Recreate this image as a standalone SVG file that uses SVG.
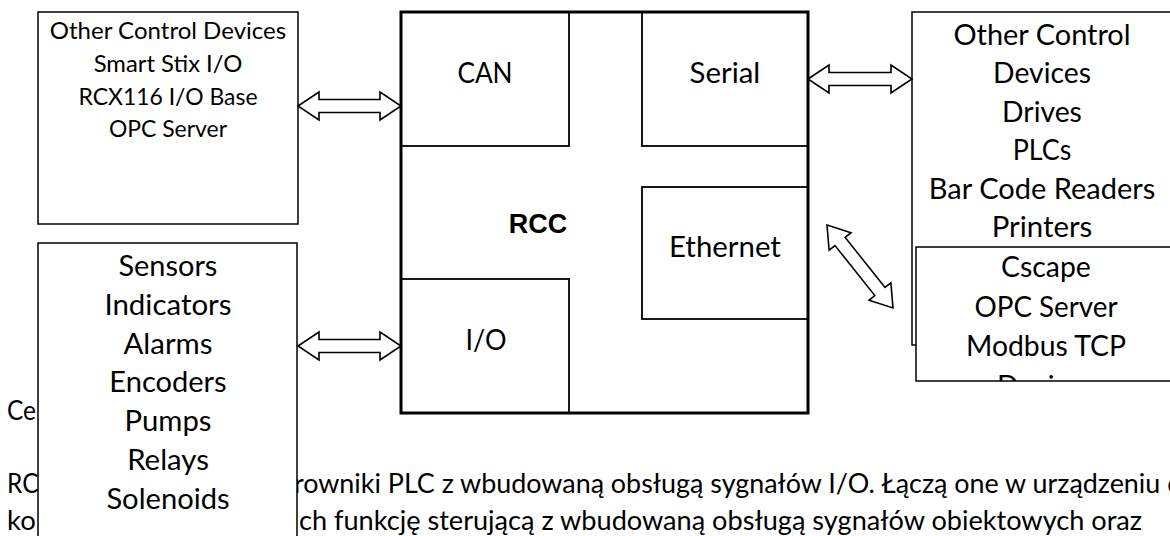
<svg xmlns="http://www.w3.org/2000/svg" width="1170" height="536" viewBox="0 0 1170 536">
<defs>
<style>
.box{fill:#fff;stroke:#000;stroke-width:1.5}
.inner{fill:#fff;stroke:#000;stroke-width:1.8}
.outer{fill:none;stroke:#000;stroke-width:3}
.arrow{fill:#fff;stroke:#000;stroke-width:1.6;stroke-linejoin:miter}
.t{font-family:Lato,"Open Sans",sans-serif;fill:#000}
.s1{font-size:23.8px}
.s2{font-size:28.3px}
.body{font-size:26.4px}
.rcc{font-family:"Liberation Sans",Arial,sans-serif;font-weight:bold;font-size:27px;text-anchor:middle}
</style>
<clipPath id="clipCscape"><rect x="916" y="247" width="260" height="134"/></clipPath>
</defs>
<rect width="1170" height="536" fill="#fff"/>

<g id="body-text" class="t body">
<text x="7" y="420" textLength="29" lengthAdjust="spacingAndGlyphs">Ce</text>
<text x="7" y="493" textLength="31.5" lengthAdjust="spacingAndGlyphs">RC</text>
<text x="7" y="530" textLength="28.8" lengthAdjust="spacingAndGlyphs">ko</text>
<text x="294" y="493" textLength="886" lengthAdjust="spacingAndGlyphs">rowniki PLC z wbudowaną obsługą sygnałów I/O. Łączą one w urządzeniu c</text>
<text x="299" y="530" textLength="843" lengthAdjust="spacingAndGlyphs">ch funkcję sterującą z wbudowaną obsługą sygnałów obiektowych oraz</text>
</g>

<g id="node-other-control-left">
<rect class="box" x="38" y="12" width="260" height="212"/>
<g class="t s1">
<text x="49.8" y="39" textLength="236.4" lengthAdjust="spacingAndGlyphs">Other Control Devices</text>
<text x="93.7" y="72" textLength="148.7" lengthAdjust="spacingAndGlyphs">Smart Stix I/O</text>
<text x="78.5" y="104.5" textLength="179" lengthAdjust="spacingAndGlyphs">RCX116 I/O Base</text>
<text x="109" y="137" textLength="118" lengthAdjust="spacingAndGlyphs">OPC Server</text>
</g>
</g>

<g id="node-io-devices">
<rect class="box" x="38" y="243" width="259" height="320"/>
<g class="t s2">
<text x="118.5" y="276" textLength="98.9" lengthAdjust="spacingAndGlyphs">Sensors</text>
<text x="104.4" y="314.8" textLength="127.1" lengthAdjust="spacingAndGlyphs">Indicators</text>
<text x="123.5" y="353.6" textLength="89" lengthAdjust="spacingAndGlyphs">Alarms</text>
<text x="109.3" y="392.4" textLength="117.4" lengthAdjust="spacingAndGlyphs">Encoders</text>
<text x="124.6" y="431.2" textLength="86.9" lengthAdjust="spacingAndGlyphs">Pumps</text>
<text x="127.2" y="470" textLength="81.7" lengthAdjust="spacingAndGlyphs">Relays</text>
<text x="106.4" y="508.8" textLength="123.2" lengthAdjust="spacingAndGlyphs">Solenoids</text>
</g>
</g>

<g id="node-rcc">
<rect x="401" y="12" width="407" height="401" fill="#fff"/>
<g id="node-can">
<rect class="inner" x="401" y="12" width="168" height="134"/>
<text class="t s2" x="457.4" y="83" textLength="55.2" lengthAdjust="spacingAndGlyphs">CAN</text>
</g>
<g id="node-serial">
<rect class="inner" x="642" y="12" width="166" height="134"/>
<text class="t s2" x="689.6" y="83" textLength="70.7" lengthAdjust="spacingAndGlyphs">Serial</text>
</g>
<g id="node-ethernet">
<rect class="inner" x="642" y="187" width="166" height="132"/>
<text class="t s2" x="669" y="257" textLength="111.9" lengthAdjust="spacingAndGlyphs">Ethernet</text>
</g>
<g id="node-io">
<rect class="inner" x="401" y="279" width="168" height="134"/>
<text class="t s2" x="465.5" y="350" textLength="41" lengthAdjust="spacingAndGlyphs">I/O</text>
</g>
<rect class="outer" x="401" y="12" width="407" height="401"/>
<text class="rcc" x="538" y="233">RCC</text>
</g>

<g id="node-other-control-right">
<rect class="box" x="912" y="12" width="264" height="333"/>
<g class="t s2">
<text x="953.5" y="45" textLength="177.1" lengthAdjust="spacingAndGlyphs">Other Control</text>
<text x="993.1" y="83.4" textLength="97.8" lengthAdjust="spacingAndGlyphs">Devices</text>
<text x="1002.1" y="121.8" textLength="79.8" lengthAdjust="spacingAndGlyphs">Drives</text>
<text x="1012.7" y="160.2" textLength="58.6" lengthAdjust="spacingAndGlyphs">PLCs</text>
<text x="928.8" y="198.6" textLength="226.5" lengthAdjust="spacingAndGlyphs">Bar Code Readers</text>
<text x="991.7" y="237" textLength="100.6" lengthAdjust="spacingAndGlyphs">Printers</text>
</g>
</g>

<g id="node-ethernet-devices">
<rect class="box" x="916" y="247" width="264" height="134"/>
<g class="t s2" clip-path="url(#clipCscape)">
<text x="1001.1" y="277" textLength="89.7" lengthAdjust="spacingAndGlyphs">Cscape</text>
<text x="974.5" y="316.5" textLength="143" lengthAdjust="spacingAndGlyphs">OPC Server</text>
<text x="966" y="356" textLength="160" lengthAdjust="spacingAndGlyphs">Modbus TCP</text>
<text x="997.1" y="395.5" textLength="97.8" lengthAdjust="spacingAndGlyphs">Devices</text>
</g>
</g>

<g id="connectors">
<polygon class="arrow" points="298,106 319,92 319,99.5 380,99.5 380,92 401,106 380,120 380,112.5 319,112.5 319,120"/>
<polygon class="arrow" points="298,346 319,332 319,339.5 380,339.5 380,332 401,346 380,360 380,352.5 319,352.5 319,360"/>
<polygon class="arrow" points="808,79 829,65 829,72.5 891,72.5 891,65 912,79 891,93 891,85.5 829,85.5 829,93"/>
<polygon class="arrow" transform="translate(860 266.5) rotate(51.5)" points="-53,0 -32,-14 -32,-6.5 32,-6.5 32,-14 53,0 32,14 32,6.5 -32,6.5 -32,14"/>
</g>
</svg>
